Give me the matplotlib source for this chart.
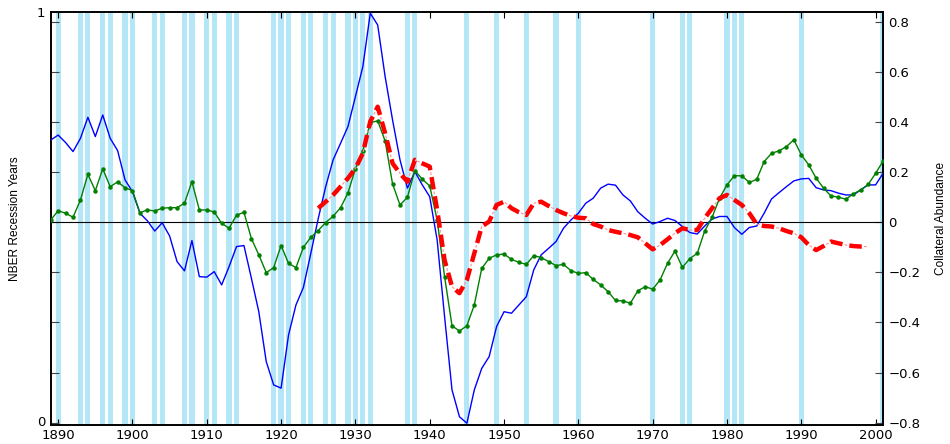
import numpy as np
import matplotlib
matplotlib.use("Agg")
import matplotlib.pyplot as plt
from matplotlib.transforms import ScaledTranslation

plt.rcParams['lines.scale_dashes'] = False

# NBER recession years
recession_years = [1890, 1893, 1894, 1896, 1897, 1899, 1900, 1903, 1904, 1907, 1908,
                   1910, 1911, 1913, 1914, 1919, 1920, 1921, 1923, 1924, 1926, 1927,
                   1929, 1930, 1931, 1932, 1937, 1938, 1945, 1949, 1953, 1957, 1960,
                   1970, 1974, 1975, 1980, 1981, 1982, 1990, 2001]

years = list(range(1889, 2002))

blue = [0.328, 0.348, 0.318, 0.282, 0.335, 0.419, 0.342, 0.428, 0.335, 0.286,
        0.169, 0.122, 0.036, 0.006, -0.035, -0.002, -0.055, -0.157, -0.194, -0.073,
        -0.217, -0.219, -0.197, -0.250, -0.177, -0.097, -0.093, -0.223, -0.357, -0.556,
        -0.649, -0.662, -0.450, -0.330, -0.260, -0.124, 0.015, 0.142, 0.249, 0.315,
        0.382, 0.501, 0.621, 0.834, 0.787, 0.581, 0.408, 0.249, 0.136, 0.202,
        0.149, 0.102, -0.071, -0.377, -0.669, -0.776, -0.802, -0.669, -0.583, -0.536,
        -0.416, -0.357, -0.363, -0.330, -0.297, -0.190, -0.130, -0.104, -0.077, -0.024,
        0.009, 0.036, 0.076, 0.096, 0.136, 0.152, 0.148, 0.109, 0.085, 0.042,
        0.016, -0.007, 0.003, 0.016, 0.007, -0.017, -0.041, -0.047, -0.015, 0.013,
        0.023, 0.023, -0.021, -0.048, -0.021, -0.015, 0.036, 0.093, 0.118, 0.142,
        0.165, 0.173, 0.175, 0.138, 0.129, 0.126, 0.116, 0.109, 0.109, 0.129,
        0.149, 0.149, 0.195]

green = [0.009, 0.046, 0.036, 0.020, 0.089, 0.191, 0.126, 0.213, 0.142, 0.161,
         0.138, 0.126, 0.038, 0.049, 0.045, 0.056, 0.058, 0.058, 0.076, 0.162,
         0.049, 0.049, 0.041, -0.004, -0.024, 0.028, 0.040, -0.065, -0.130, -0.201,
         -0.181, -0.093, -0.164, -0.181, -0.100, -0.060, -0.033, -0.001, 0.024, 0.058,
         0.117, 0.214, 0.285, 0.397, 0.405, 0.324, 0.153, 0.069, 0.100, 0.206,
         0.172, 0.145, 0.009, -0.217, -0.413, -0.434, -0.413, -0.330, -0.184, -0.144,
         -0.130, -0.127, -0.148, -0.160, -0.168, -0.133, -0.141, -0.157, -0.173, -0.168,
         -0.193, -0.204, -0.201, -0.228, -0.250, -0.277, -0.312, -0.314, -0.323, -0.274,
         -0.257, -0.267, -0.230, -0.164, -0.115, -0.180, -0.145, -0.124, -0.035, 0.020,
         0.096, 0.149, 0.186, 0.185, 0.159, 0.171, 0.242, 0.275, 0.285, 0.302,
         0.329, 0.269, 0.229, 0.176, 0.136, 0.105, 0.100, 0.092, 0.113, 0.129,
         0.151, 0.195, 0.244]

red_years = list(range(1925, 2000))
red = [0.056, 0.082, 0.109, 0.142, 0.176, 0.215, 0.275, 0.402, 0.461, 0.355,
       0.235, 0.195, 0.162, 0.249, 0.235, 0.222, 0.049, -0.151, -0.257, -0.283,
       -0.230, -0.124, -0.017, 0.003, 0.069, 0.082, 0.056, 0.040, 0.029, 0.076,
       0.082, 0.065, 0.049, 0.036, 0.025, 0.018, 0.016, -0.007, -0.017, -0.031,
       -0.038, -0.044, -0.051, -0.060, -0.084, -0.108, -0.091, -0.068, -0.044, -0.024,
       -0.031, -0.031, 0.016, 0.056, 0.096, 0.109, 0.089, 0.069, 0.036, -0.007,
       -0.015, -0.017, -0.024, -0.035, -0.044, -0.060, -0.091, -0.111, -0.095, -0.077,
       -0.084, -0.091, -0.095, -0.097, -0.097]

tick_font = {'family': 'DejaVu Sans', 'size': 9.5}
label_font = {'family': ['Liberation Sans', 'DejaVu Sans'], 'size': 8.6}

fig = plt.figure(figsize=(9.5, 4.44), dpi=100)
ax_rec = fig.add_axes([0.0534, 0.0428, 0.8761, 0.9302])

# recession bars on the 0..1 axis
ax_rec.bar(recession_years, [1] * len(recession_years), width=0.7,
           color='#b3e6f7', edgecolor='none', zorder=1)
ax_rec.set_ylim(0, 1)
ax_rec.set_xlim(1889, 2001)
ax_rec.set_yticks([0, 1])
ax_rec.set_yticklabels(['0', '1'], fontdict=tick_font)
ax_rec.tick_params(axis='y', length=0, pad=4)
ax_rec.set_ylabel('NBER Recession Years', fontdict=label_font, labelpad=11)
ax_rec.set_xticks(range(1890, 2001, 10))
ax_rec.set_xticklabels([str(y) for y in range(1890, 2001, 10)], fontdict=tick_font)
ax_rec.tick_params(axis='x', direction='in', top=True, length=4, pad=3)

# nudge the left "0" up so it clears the 1890 label
zero_lbl = ax_rec.get_yticklabels()[0]
zero_lbl.set_transform(zero_lbl.get_transform() +
                       ScaledTranslation(0, 3 / 72, fig.dpi_scale_trans))

ax = ax_rec.twinx()
ax.set_xlim(1889, 2001)
ax.set_ylim(-0.809, 0.839)
ax.axhline(0, color='black', lw=0.8, zorder=2)
ax.plot(years, blue, color='#0000ff', lw=1.0, zorder=3)
ax.plot(years, green, color='#008000', lw=1.0, marker='o', ms=2.2, zorder=4)
ax.plot(red_years, red, color='#ff9090', lw=0.8, linestyle=(3.5, (2, 12)), zorder=5)
ax.plot(red_years, red, color='#ff0000', lw=3.2, linestyle=(0, (9, 5)),
        dash_capstyle='butt', zorder=5)

ax.set_yticks(np.arange(-0.8, 0.81, 0.2))
ax.set_yticklabels(['\u22120.8', '\u22120.6', '\u22120.4', '\u22120.2', '0',
                    '0.2', '0.4', '0.6', '0.8'], fontdict=tick_font)
ax.yaxis.set_ticks_position('both')
ax.tick_params(axis='y', direction='in', length=6, left=True, right=True,
               labelleft=False, labelright=True, pad=4, color='#444444')
ax.set_ylabel('Collateral Abundance', fontdict=label_font, labelpad=10)
ax.yaxis.set_label_position('right')

for a in (ax_rec, ax):
    for s in a.spines.values():
        s.set_linewidth(1.2)

fig.savefig('out.png', dpi=100)
